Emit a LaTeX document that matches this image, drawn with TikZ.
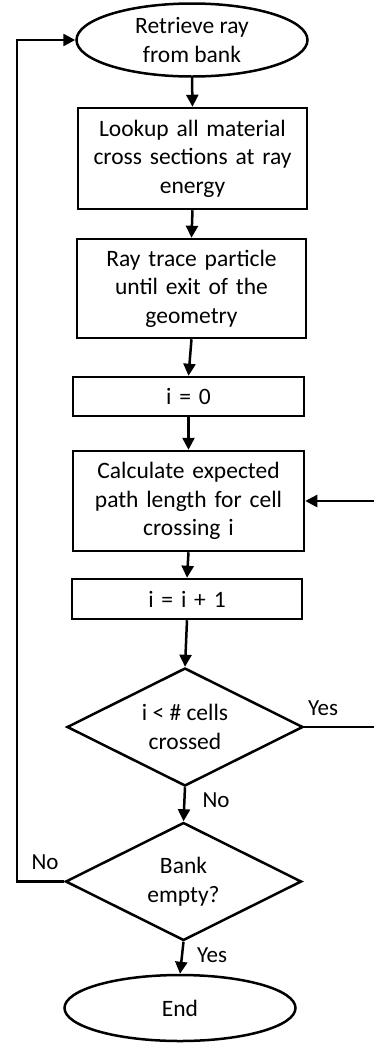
\documentclass[tikz,border=0pt]{standalone}
\usepackage{fontspec}
\setmainfont{Carlito}
\usetikzlibrary{shapes.geometric,arrows.meta}
\begin{document}
\begin{tikzpicture}[x=1pt,y=-1pt,
  line width=2.5pt,
  every node/.style={font=\fontsize{23.5}{28.5}\selectfont, align=center, inner sep=0pt},
  proc/.style={draw, rectangle, minimum width=#1, text width=222pt},
  term/.style={draw, ellipse, minimum width=231pt, minimum height=#1},
  dec/.style={draw, diamond, aspect=2, minimum width=236pt, minimum height=118pt},
  arr/.style={-{Triangle[length=12pt,width=12pt]}},
  lbl/.style={font=\fontsize{23}{24}\selectfont}]
\useasboundingbox (0,0) rectangle (374,1045);
\node[term=73pt] (e1) at (192,40) {Retrieve ray\\from bank};
\node[proc=229pt, minimum height=101pt] (b1) at (192.5,158.5) {Lookup all material\\cross sections at ray\\energy};
\node[proc=229pt, minimum height=99pt] (b2) at (191.5,288.5) {Ray trace particle\\until exit of the\\geometry};
\node[proc=231pt, minimum height=39pt] (b3) at (188.5,396.5) {i = 0};
\node[proc=231pt, minimum height=100pt] (b4) at (188.5,501) {Calculate expected\\path length for cell\\crossing i};
\node[proc=230pt, minimum height=40pt] (b5) at (187,599) {i = i + 1};
\node[dec] (d1) at (185,727) {i < \# cells\\crossed};
\node[dec] (d2) at (183.5,881.5) {Bank\\empty?};
\node[term=66pt] (e2) at (180,1008) {End};
\coordinate (lft) at (17,40);
\coordinate (rgt) at (385,727);
\draw[arr] (e1.south) -- (b1.north);
\draw[arr] (b1.south) -- (b2.north);
\draw[arr] (b2.south) -- (b3.north);
\draw[arr] (b3.south) -- (b4.north);
\draw[arr] (b4.south) -- (b5.north);
\draw[arr] (b5.south) -- (d1.north);
\draw[arr] (d1.south) -- (d2.north);
\draw[arr] (d2.south) -- (e2.north);
\draw[arr] (d2.west) -| (lft) -- (e1.west);
\draw[arr] (d1.east) -- (rgt) |- (b4.east);
\node[lbl] (yes1) at (323,708) {Yes};
\node[lbl] (no1) at (216,800) {No};
\node[lbl] (no2) at (45,862) {No};
\node[lbl] (yes2) at (212,955) {Yes};
\end{tikzpicture}
\end{document}
